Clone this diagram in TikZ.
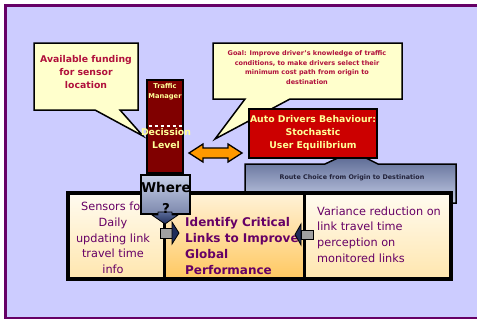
\documentclass[tikz,border=0pt]{standalone}
\usepackage{fontspec}
\setmainfont{DejaVu Sans}
\definecolor{framefill}{HTML}{CCCCFF}
\definecolor{framepurple}{HTML}{660066}
\definecolor{calloutfill}{HTML}{FFFFCC}
\definecolor{callouttext}{HTML}{B0103C}
\definecolor{tmred}{HTML}{800000}
\definecolor{paleyellow}{HTML}{FFFF99}
\definecolor{boxred}{HTML}{CC0000}
\definecolor{arroworange}{HTML}{FF9900}
\definecolor{routetop}{HTML}{5C6A94}
\definecolor{routebottom}{HTML}{C4CCE6}
\definecolor{routetext}{HTML}{22223A}
\definecolor{celltext}{HTML}{660066}
\definecolor{wheretop}{HTML}{C8D0EA}
\definecolor{wherebottom}{HTML}{7C88AC}
\definecolor{navytop}{HTML}{5A6A98}
\definecolor{navybottom}{HTML}{1F2D5A}
\definecolor{graybar}{HTML}{A0A0A0}
\definecolor{cellpale}{HTML}{FFFBF0}
\definecolor{cellpeach}{HTML}{FFE6AE}
\definecolor{midtop}{HTML}{FFF2D8}
\definecolor{midbottom}{HTML}{FFC860}
\tikzset{
  calloutshape/.style={draw=black, line width=1.5pt, fill=calloutfill, line join=miter},
  callouttxt/.style={inner sep=0pt, align=center, text=callouttext},
  celltxt/.style={inner sep=0pt, text=celltext},
  yellowtxt/.style={inner sep=0pt, align=center, text=paleyellow},
}
\begin{document}
\begin{tikzpicture}[x=1pt,y=-1pt]
\useasboundingbox (0,0) rectangle (477,322);
\clip (0,0) rectangle (477,322);
\fill[white] (0,0) rectangle (477,322);
% frame (right edge lies outside the picture)
\fill[framefill] (5.5,5.5) rectangle (477,318);
\draw[framepurple, line width=2.5pt] (480,5.5) -- (5.5,5.5) -- (5.5,318) -- (480,318);
% callouts
\draw[calloutshape] (34,43) -- (138,43) -- (138,110) -- (120,110) -- (143,136) -- (95,110) -- (34,110) -- cycle;
\draw[calloutshape] (213,43) -- (402,43) -- (402,99) -- (290,99) -- (215,139) -- (245,99) -- (213,99) -- cycle;
\node[callouttxt, font=\bfseries\fontsize{9.3}{13}\selectfont] (fundtext) at (86,72) {Available funding\\for sensor\\location};
\node[callouttxt, font=\bfseries\fontsize{6.5}{9.5}\selectfont] (goaltext) at (307,67.5) {Goal: Improve driver’s knowledge of traffic\\conditions, to make drivers select their\\minimum cost path  from origin to\\destination};
% route choice box
\draw[line width=1.5pt, top color=routetop, bottom color=routebottom] (245,164) -- (325,164) -- (342,156) -- (362,156) -- (378,164) -- (456,164) -- (456,203) -- (245,203) -- cycle;
\node[inner sep=0pt, text=routetext, font=\bfseries\fontsize{6.4}{8}\selectfont] (routetxt) at (352,178) {Route Choice from Origin  to Destination};
% red box
\draw[line width=1.5pt, fill=boxred] (249,109) rectangle (377,158);
\node[yellowtxt, font=\bfseries\fontsize{9.3}{13}\selectfont] (drivertext) at (313,133) {Auto Drivers Behaviour:\\Stochastic\\User Equilibrium};
% traffic manager
\draw[line width=1.8pt, fill=tmred] (147,80) rectangle (183,173);
\draw[white, line width=2.5pt, dash pattern=on 3pt off 3pt] (148.5,126) -- (183,126);
\node[yellowtxt, font=\bfseries\fontsize{6.7}{10}\selectfont] (tmtext) at (165,92) {Traffic\\Manager};
\node[yellowtxt, font=\bfseries\fontsize{9.3}{13}\selectfont] (leveltext) at (166,139) {Decission\\Level};
% orange double arrow
\draw[line width=1.3pt, fill=arroworange, line join=miter] (189,153) -- (203,144) -- (203,148) -- (228,148) -- (228,144) -- (242,153) -- (228,162) -- (228,158) -- (203,158) -- (203,162) -- cycle;
% bottom row
\shade[top color=cellpale, bottom color=cellpeach] (68,193) rectangle (164.5,279);
\shade[top color=midtop, bottom color=midbottom] (164.5,193) rectangle (304.5,279);
\shade[top color=cellpale, bottom color=cellpeach] (304.5,193) rectangle (451,279);
\draw[line width=3.5pt] (68,193) rectangle (451,279);
\draw[line width=3.5pt] (164.5,193) -- (164.5,279);
\draw[line width=3.5pt] (304.5,193) -- (304.5,279);
\node[celltxt, align=center, font=\fontsize{11.3}{15.7}\selectfont] (sensortext) at (113,238) {Sensors for\\Daily\\updating link\\travel time\\info};
\node[celltxt, align=left, anchor=west, font=\bfseries\fontsize{12}{16}\selectfont] (identtext) at (185,246) {Identify Critical\\Links  to Improve\\Global\\Performance};
\node[celltxt, align=left, anchor=west, font=\fontsize{11.3}{15.7}\selectfont] (vartext) at (317,234.5) {Variance reduction on\\link travel  time\\perception on\\monitored links};
% where box
\draw[line width=1.5pt, top color=wheretop, bottom color=wherebottom] (141,175) rectangle (190,214);
\draw[line width=0.8pt, top color=navytop, bottom color=navybottom, line join=miter] (158,212) -- (172,212) -- (172,215) -- (178,215) -- (165,224) -- (152,215) -- (158,215) -- cycle;
\node[inner sep=0pt, align=center, text=black, font=\bfseries\fontsize{13.5}{21}\selectfont] (wheretext) at (166,198) {Where\\?};
% small gray arrows
\draw[line width=1pt, fill=graybar] (160,228) rectangle (172,238);
\draw[line width=0.8pt, fill=navybottom] (172,222) -- (179,233) -- (172,244) -- cycle;
\draw[line width=1pt, fill=graybar] (301,230) rectangle (313,239);
\draw[line width=0.8pt, fill=navybottom] (301,224) -- (295,234.5) -- (301,245) -- cycle;
\end{tikzpicture}
\end{document}
